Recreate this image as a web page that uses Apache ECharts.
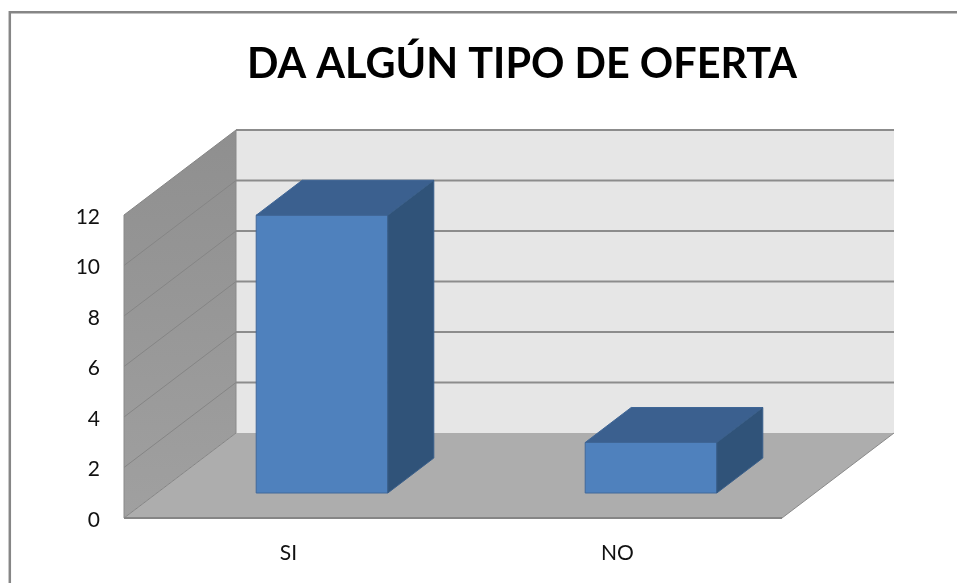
<!DOCTYPE html>
<html>
<head>
<meta charset="utf-8">
<style>html,body{margin:0;padding:0;background:#fff}#c{width:957px;height:583px}</style>
<script src="https://cdn.jsdelivr.net/npm/echarts@6/dist/echarts.min.js"></script>
</head>
<body>
<div id="c"></div>
<script>
var chartTitle = 'DA ALGÚN TIPO DE OFERTA';
var categories = ['SI', 'NO'];
var values = [11, 2];
var yTicks = [0, 2, 4, 6, 8, 10, 12];

// Oblique projection used for the 3D look (pixels)
var WALL_DX = 112, WALL_DY = -85;
var BAR_OFF_DX = 33.5, BAR_OFF_DY = -25;
var BAR_DX = 46, BAR_DY = -35;
var BAR_FRACTION = 0.4;

function poly(points, fill, stroke, lw) {
  return { type: 'polygon', shape: { points: points },
    style: { fill: fill, stroke: stroke || null, lineWidth: lw || 0 } };
}
function seg(a, b, color, lw) {
  return { type: 'line', shape: { x1: a[0], y1: a[1], x2: b[0], y2: b[1] },
    style: { stroke: color, lineWidth: lw, fill: null } };
}

function renderWalls(params, api) {
  var band = api.size([1, 0])[0];
  var x0 = api.coord([0, 0])[0] - band / 2;
  var x1 = x0 + band * categories.length;
  var y0 = api.coord([0, 0])[1];
  var yT = api.coord([0, yTicks[yTicks.length - 1]])[1];
  var children = [];
  children.push(poly([[x0 + WALL_DX, yT + WALL_DY], [x1 + WALL_DX, yT + WALL_DY],
    [x1 + WALL_DX, y0 + WALL_DY], [x0 + WALL_DX, y0 + WALL_DY]], '#e6e6e6'));
  children.push(poly([[x0, yT], [x0 + WALL_DX, yT + WALL_DY],
    [x0 + WALL_DX, y0 + WALL_DY], [x0, y0]],
    new echarts.graphic.LinearGradient(0, 0, 0, 1, [
      { offset: 0, color: '#8f8f8f' }, { offset: 1, color: '#a0a0a0' }
    ])));
  children.push(poly([[x0, y0], [x1, y0], [x1 + WALL_DX, y0 + WALL_DY], [x0 + WALL_DX, y0 + WALL_DY]],
    '#adadad'));
  yTicks.forEach(function (t) {
    var y = api.coord([0, t])[1];
    if (t > 0) {
      children.push(seg([x0 + WALL_DX, y + WALL_DY], [x1 + WALL_DX, y + WALL_DY], '#8c8c8c', 2));
    }
    children.push(seg([x0, y], [x0 + WALL_DX, y + WALL_DY], '#858585', 1));
  });
  children.push(seg([x0, yT], [x0, y0], '#8a8a8a', 1));
  children.push(seg([x0 + WALL_DX, yT + WALL_DY], [x0 + WALL_DX, y0 + WALL_DY], '#8a8a8a', 1));
  children.push(seg([x0, y0], [x1, y0], '#858585', 2));
  children.push(seg([x1, y0], [x1 + WALL_DX, y0 + WALL_DY], '#8a8a8a', 1));
  return { type: 'group', children: children };
}

function renderBar(params, api) {
  var band = api.size([1, 0])[0];
  var w = band * BAR_FRACTION;
  var base = api.coord([api.value(0), 0]);
  var top = api.coord([api.value(0), api.value(1)]);
  var l = base[0] - w / 2 + BAR_OFF_DX, r = l + w;
  var b = base[1] + BAR_OFF_DY, t = top[1] + BAR_OFF_DY;
  var edge = '#41689a';
  return { type: 'group', children: [
    poly([[l, t], [r, t], [r, b], [l, b]], '#4f81bd', edge, 1),
    poly([[l, t], [l + BAR_DX, t + BAR_DY], [r + BAR_DX, t + BAR_DY], [r, t]], '#3b608f', '#3f6696', 1),
    poly([[r, t], [r + BAR_DX, t + BAR_DY], [r + BAR_DX, b + BAR_DY], [r, b]], '#305379', '#3a5f8a', 1)
  ] };
}

var chart = echarts.init(document.getElementById('c'), null, { renderer: 'canvas' });
chart.setOption({
  animation: false,
  backgroundColor: '#ffffff',
  title: {
    text: chartTitle, left: 517, top: 39, textAlign: 'center',
    textStyle: { fontFamily: 'Lato', fontWeight: 'bold', fontSize: 41.4, color: '#000000' }
  },
  graphic: [{
    type: 'polyline', silent: true,
    shape: { points: [[9.8, 583], [9.8, 12.3], [957, 12.3]] },
    style: { stroke: '#868686', lineWidth: 2.5, fill: null }
  }],
  grid: { left: 124, right: 175, top: 215, bottom: 65 },
  xAxis: {
    type: 'category', data: categories,
    axisLine: { show: false }, axisTick: { show: false }, splitLine: { show: false },
    axisLabel: { margin: 25, fontFamily: 'Lato', fontSize: 21, color: '#111111' }
  },
  yAxis: {
    type: 'value', min: 0, max: 12, interval: 2,
    axisLine: { show: false }, axisTick: { show: false }, splitLine: { show: false },
    axisLabel: {
      margin: 24,
      formatter: '{t|{value}}',
      rich: { t: { fontFamily: 'Lato', fontSize: 21, color: '#111111', padding: [4, 0, 0, 0] } }
    }
  },
  series: [
    { type: 'custom', silent: true, clip: false, z: 1, renderItem: renderWalls, data: [[0, 0]],
      encode: { x: 0, y: 1 } },
    { type: 'custom', silent: true, clip: false, z: 2, renderItem: renderBar,
      data: values.map(function (v, i) { return [i, v]; }),
      encode: { x: 0, y: 1 } }
  ]
});
</script>
</body>
</html>
